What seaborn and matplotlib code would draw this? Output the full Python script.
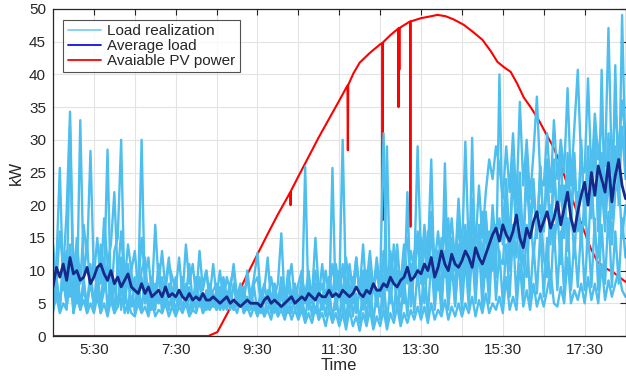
import numpy as np
import pandas as pd
import matplotlib
matplotlib.use("Agg")
import matplotlib.pyplot as plt
from matplotlib.lines import Line2D
import seaborn as sns

# ---------------- data ----------------
t_start, t_end = 4.5, 18.5          # hours (4:30 .. 18:30), 5-minute samples
n_samples = 169

# load realizations (kW), 12 values per hour starting 4:30
real_1 = [4, 6, 3.5, 5, 4, 14, 3.5, 6, 4, 5.5, 3.5, 5,
          3.5, 6, 3.5, 5, 3, 5.5, 3.5, 4.5, 12, 3.5, 5, 3.5,
          3, 5, 3.5, 4.5, 3, 5.5, 3, 4, 3.5, 5, 3, 4.5,
          3, 4.5, 3.5, 5, 3, 4, 3.5, 5.5, 3.5, 4.5, 4, 5,
          4, 5.5, 4, 6, 4.5, 5, 3.5, 5.5, 3.5, 4.5, 3, 4.5,
          3, 4.5, 3, 4, 2.5, 5, 3, 4, 2.5, 4.5, 2.5, 4,
          2.5, 4, 2, 3.5, 2, 4.5, 2.5, 3.5, 1.5, 4, 2, 3.5,
          1.5, 3.5, 1, 4, 1.5, 3, 0.8, 3.5, 1.5, 4, 1, 3,
          1.5, 4, 1, 3.5, 2, 4.5, 1.5, 3.5, 2, 4, 2.5, 4.5,
          2.5, 4.5, 2, 5, 2.5, 4, 3, 5.5, 2.5, 4.5, 3, 5,
          3, 5, 3.5, 6, 3, 5.5, 3.5, 6.5, 3.5, 5, 4, 6,
          3.5, 9, 4, 6, 4, 11, 4.5, 7, 4, 8, 4.5, 6.5,
          4.5, 7, 10, 5, 4.5, 7.5, 5, 12, 5, 7, 5.5, 8,
          5, 9, 5.5, 8, 5, 11, 5.5, 8.5, 6, 8, 10, 7,
          6]
real_2 = [6, 11, 25.7, 7, 13, 6, 12, 5, 33, 9, 14, 7,
          12, 6, 14, 7, 11, 5, 13, 15, 30, 6, 11, 7,
          9, 5, 10, 12, 5, 9, 6, 11, 5, 8, 12, 6,
          9, 5, 8, 6, 11, 5, 9, 5, 8, 10, 5, 7,
          8, 5, 9, 6, 8, 10, 5, 8, 6, 9, 5, 8,
          9, 5, 7, 12, 5, 8, 5, 9, 6, 8, 11, 5,
          8, 10, 5, 9, 6, 15, 7, 5, 10, 6, 11, 7,
          10, 6, 12, 7, 5, 11, 7, 14, 6, 10, 7, 12,
          7, 13, 8, 6, 14, 8, 6, 12, 15, 7, 13, 8,
          15, 8, 16, 9, 13, 7, 15, 9, 18, 10, 8, 14,
          10, 17, 9, 15, 8, 14, 19, 9, 16, 10, 17, 12,
          11, 19, 10, 17, 12, 21, 11, 9, 19, 12, 18, 20,
          12, 9, 20, 13, 19, 11, 23, 13, 20, 12, 22, 14,
          21, 13, 24, 15, 12, 23, 16, 25, 14, 22, 24, 15,
          20]
real_3 = [14, 8, 16, 10, 19, 34.3, 9, 15, 8, 17, 12, 28.3,
          9, 15, 8, 18, 11, 14, 22, 9, 16, 8, 14, 10,
          13, 7, 15, 9, 12, 6, 17, 8, 13, 7, 11, 9,
          7, 12, 6, 14, 8, 11, 6, 13, 7, 10, 6, 11,
          6, 10, 5, 9, 7, 11, 6, 8, 5, 10, 6, 9,
          12.7, 6, 8, 5, 9, 6, 8, 15.7, 5, 10, 6, 8,
          5, 9, 6, 10, 5, 8, 6, 11, 5, 9, 6, 10,
          6, 11, 5, 10, 7, 12, 6, 9, 5, 11, 7, 10,
          6, 12, 7, 11, 8, 14, 7, 12, 8, 11, 9, 15,
          8, 14, 9, 16, 8, 13, 10, 17, 9, 15, 10, 18,
          9, 16, 11, 18, 10, 17, 12, 19, 11, 20, 13, 18,
          14, 22, 13, 25, 15, 21, 14, 24, 16, 22, 15, 26,
          16, 24, 15, 27, 17, 23, 16, 28, 18, 25, 17, 29,
          18, 27, 19, 30, 17, 28, 20, 31, 19, 29, 21, 32,
          24]
real_4 = [5, 9, 4.5, 11, 6, 32, 5, 10, 4.5, 8, 5, 9,
          4.5, 10, 5, 9, 28.5, 5, 8, 4.5, 9, 5, 10, 4.5,
          8, 4.5, 9, 5, 7, 4, 8, 5, 9, 4.5, 7, 5,
          8, 4.5, 9, 5, 7.5, 4, 8, 5, 6.5, 4, 8, 4.5,
          7, 4, 8, 5, 7, 4, 6.5, 5, 7.5, 4, 6, 5,
          4, 7, 5, 6.5, 4, 8, 5, 6, 4, 7.5, 5, 6.5,
          5, 8, 6, 9, 5.5, 10, 6, 8, 5, 9, 6, 11,
          7, 30, 6, 11, 7, 12, 6, 10, 8, 13, 7, 11,
          8, 31, 7, 13, 9, 12, 8, 14, 9, 13, 10, 16,
          10, 17, 9, 19, 11, 16, 10, 20, 12, 18, 11, 21,
          12, 29.7, 13, 21, 14, 23, 15, 22, 27, 24, 29, 26,
          21, 29, 22, 31, 20, 35.8, 23, 30, 21, 28, 36.6, 24,
          23, 31, 22, 33, 24, 30, 25, 37.9, 23, 32, 40.7, 26,
          25, 39.4, 24, 34, 27, 33, 26, 47.1, 25, 35, 28, 36,
          30]
real_5 = [4, 7, 5, 9, 4.5, 8, 5, 10, 4.5, 7, 5, 8,
          5, 8, 4.5, 7, 10, 5, 8, 4.5, 7, 5, 9, 4.5,
          5, 7, 30, 5, 8, 4.5, 7, 5, 6.5, 4.5, 8, 4.5,
          6, 4.5, 7, 4.5, 6, 4, 7.5, 4.5, 6, 4, 7, 4.5,
          6, 4, 5.5, 4, 7, 4, 6, 4.5, 5.5, 4, 6.5, 4,
          5, 3.5, 6, 4, 5.5, 3.5, 6, 4, 5, 3.5, 6.5, 4,
          5, 3.5, 25.9, 4, 6.5, 3.5, 6, 4, 7, 3.5, 25.7, 4,
          7, 3.5, 8, 4, 9, 3.5, 7, 4, 10, 3.5, 8, 4.5,
          9, 4, 29, 5, 10, 4, 9, 5, 22, 4.5, 10, 29,
          11, 5, 12, 27, 6, 13, 5, 26.4, 6, 14, 5, 12,
          7, 15, 6, 30.3, 8, 16, 7, 18, 8, 17, 9, 40,
          15, 24, 14, 27, 16, 25, 13, 28, 17, 24, 15, 26,
          16, 27, 14, 25, 17, 29, 15, 26, 18, 28, 16, 30,
          17, 29, 18, 31, 16, 40.7, 19, 30, 18, 41.4, 20, 49.1,
          26]
real_6 = [3.5, 9, 4, 12, 4.5, 10, 3.5, 13, 4, 9, 3.5, 11,
          4, 10, 3.5, 12, 4, 9, 3.5, 11, 4, 8, 3.5, 10,
          3.5, 8, 4, 9, 3.5, 7.5, 4, 10, 3.5, 8, 4, 7,
          3.5, 7, 4, 8, 3.5, 6.5, 4, 9, 3.5, 7, 4, 6.5,
          4, 7.5, 4.5, 6.5, 4, 8, 4.5, 7, 3.5, 6, 4, 7.5,
          3.5, 6, 3, 7, 3.5, 6.5, 3, 7.5, 3, 6, 3.5, 7,
          3, 6.5, 2.5, 7, 3, 8, 2.5, 6, 3, 7.5, 2.5, 6.5,
          2.5, 7, 2, 8, 3, 6.5, 2, 7.5, 2.5, 8.5, 2, 7,
          2.5, 9, 2, 8, 3, 10, 2.5, 9, 3, 11, 3.5, 10,
          3.5, 11, 3, 12, 4, 10, 3.5, 13, 4, 11, 4.5, 12,
          4, 12, 4.5, 13, 5, 14, 4.5, 12, 5, 15, 5.5, 13,
          5, 14, 6, 16, 5.5, 15, 6, 17, 5.5, 14, 6.5, 16,
          6, 15, 6.5, 17, 7, 16, 6.5, 18, 7, 15, 7.5, 17,
          7, 16, 7.5, 18, 7, 17, 8, 19, 7.5, 16, 8, 18,
          12]

average_load = [7.5, 10.5, 9, 11, 8.5, 12, 9.5, 10, 8.5, 9, 10.5, 8,
                9, 10.5, 11, 9.5, 8.5, 10, 8, 9, 7.5, 8.5, 9.5, 7.5,
                7, 6.5, 8, 6.5, 7.5, 6, 6.5, 7, 6, 7.5, 6, 6.5,
                6, 7, 6, 5.5, 6.5, 5.5, 6, 5.5, 6.5, 5.5, 5.5, 6,
                5.5, 5, 5.5, 6, 5, 5.5, 5, 4.5, 5, 5.5, 5, 5,
                5, 4.5, 5.5, 6, 5, 5.5, 5, 4.5, 5, 5.5, 6, 5,
                5.5, 6, 5.5, 6.5, 6, 5.5, 6.5, 6, 6, 7, 6, 6.5,
                6, 7, 6.5, 6, 6.5, 7.5, 6.5, 6, 7, 6.5, 8, 7,
                7, 8, 7.5, 9, 8, 7.5, 8.5, 9, 10.5, 8.5, 9, 10,
                9.5, 11, 10, 12, 9, 10.5, 13, 11, 10, 12.5, 11, 10.5,
                11.5, 13, 12, 10.5, 13.5, 12, 11, 12.5, 14, 15.5, 16.5, 14.5,
                17, 15.5, 14.5, 16, 18.5, 15, 13.5, 16.5, 15, 17.5, 19, 16,
                17.5, 19, 16.5, 18, 20.5, 17, 19.5, 22, 18, 16, 19, 21.5,
                23.5, 20, 25, 21.5, 26, 24, 22, 26.5, 20.5, 24.5, 27, 23,
                21]

# available PV power: time (h) and value (kW), including the short drops
pv_time = [4.5, 8.3, 8.52, 8.75, 9.0, 9.25, 9.5, 9.75, 10.0, 10.25,
           10.3, 10.31, 10.32, 10.5, 10.75, 11.0, 11.25, 11.5, 11.7, 11.71,
           11.72, 11.85, 12.0, 12.25, 12.5, 12.55, 12.56, 12.57, 12.75, 12.94,
           12.95, 12.96, 12.97, 12.98, 13.0, 13.23, 13.24, 13.25, 13.5, 13.75,
           13.9, 14.1, 14.3, 14.54, 14.75, 15.0, 15.2, 15.37, 15.55, 15.69,
           15.85, 16.01, 16.2, 16.38, 16.55, 16.7, 16.84, 17.0, 17.15, 17.3,
           17.46, 17.65, 17.82, 18.0, 18.19, 18.35, 18.5]
pv_power = [0, 0, 0.6, 3.3, 6.2, 9.4, 12.5, 15.6, 18.6, 21.4,
            22.0, 20.0, 22.2, 24.4, 27.4, 30.4, 33.2, 36.0, 38.3, 28.4,
            38.4, 40.2, 41.8, 43.3, 44.6, 44.8, 17.7, 44.9, 46.0, 47.0,
            35.0, 47.1, 40.7, 47.1, 47.2, 48.1, 16.7, 48.1, 48.6, 48.9,
            49.1, 48.9, 48.4, 47.6, 46.6, 45.3, 43.6, 41.9, 41.0, 40.4,
            38.6, 36.5, 34.8, 33.0, 31.0, 29.3, 27.4, 24.6, 21.8, 19.2,
            16.5, 13.4, 11.3, 10.4, 9.8, 9.0, 8.3]

tick_hours = [5.5, 6.5, 7.5, 8.5, 9.5, 10.5, 11.5, 12.5, 13.5, 14.5, 15.5, 16.5, 17.5]
tick_labels = ["5:30", "", "7:30", "", "9:30", "", "11:30", "", "13:30", "", "15:30", "", "17:30"]
y_ticks = [0, 5, 10, 15, 20, 25, 30, 35, 40, 45, 50]

# ---------------- styling ----------------
sns.set_theme(style="white")
plt.rcParams["font.family"] = ["Liberation Sans", "DejaVu Sans"]

light_blue = "#4DBEEE"
dark_blue = "#152A8A"
red = "#FF0000"
txt = "#262626"

fig = plt.figure(figsize=(6.26, 3.79), dpi=100)
ax = fig.add_axes([53 / 626, 43 / 379, 572.5 / 626, 327 / 379])

t_load = np.linspace(t_start, t_end, n_samples)
realizations = [real_1, real_2, real_3, real_4, real_5, real_6]
df_real = pd.DataFrame({
    "t": np.tile(t_load, len(realizations)),
    "kW": np.concatenate([np.asarray(r, float) for r in realizations]),
    "rep": np.repeat(np.arange(len(realizations)), n_samples),
})

sns.lineplot(x=pv_time, y=pv_power, ax=ax, color=red, lw=1.5,
             estimator=None, sort=False)
sns.lineplot(data=df_real, x="t", y="kW", units="rep", estimator=None,
             color=light_blue, lw=1.7, ax=ax, legend=False)
sns.lineplot(x=t_load, y=average_load, ax=ax, color=dark_blue, lw=2.0,
             estimator=None)

ax.set_xlim(t_start, t_end)
ax.set_ylim(0, 50)
ax.set_xticks(tick_hours)
ax.set_xticklabels(tick_labels)
ax.set_yticks(y_ticks)
ax.grid(True, color="#E3E3E3", lw=0.8)
ax.set_axisbelow(True)
ax.tick_params(direction="in", top=True, right=True, length=4, width=0.8,
               colors=txt, labelsize=11, pad=5)
for sp in ax.spines.values():
    sp.set_visible(True)
    sp.set_color(txt)
    sp.set_linewidth(0.9)

ax.set_xlabel("Time", fontsize=12, color=txt, labelpad=1)
ax.set_ylabel("kW", fontsize=12, color=txt, labelpad=4)

handles = [Line2D([], [], color="#7FCFF5", lw=1.3),
           Line2D([], [], color="#1010E0", lw=1.3),
           Line2D([], [], color=red, lw=1.3)]
leg = ax.legend(handles, ["Load realization", "Average load", "Avaiable PV power"],
                loc="upper left", bbox_to_anchor=(0.0175, 0.967), borderaxespad=0,
                fontsize=11, frameon=True, fancybox=False, handlelength=2.2,
                handletextpad=0.4, borderpad=0.3, labelspacing=0.05)
leg.get_frame().set_edgecolor(txt)
leg.get_frame().set_linewidth(0.8)
for tx in leg.get_texts():
    tx.set_color(txt)

fig.savefig("out.png", dpi=100)
